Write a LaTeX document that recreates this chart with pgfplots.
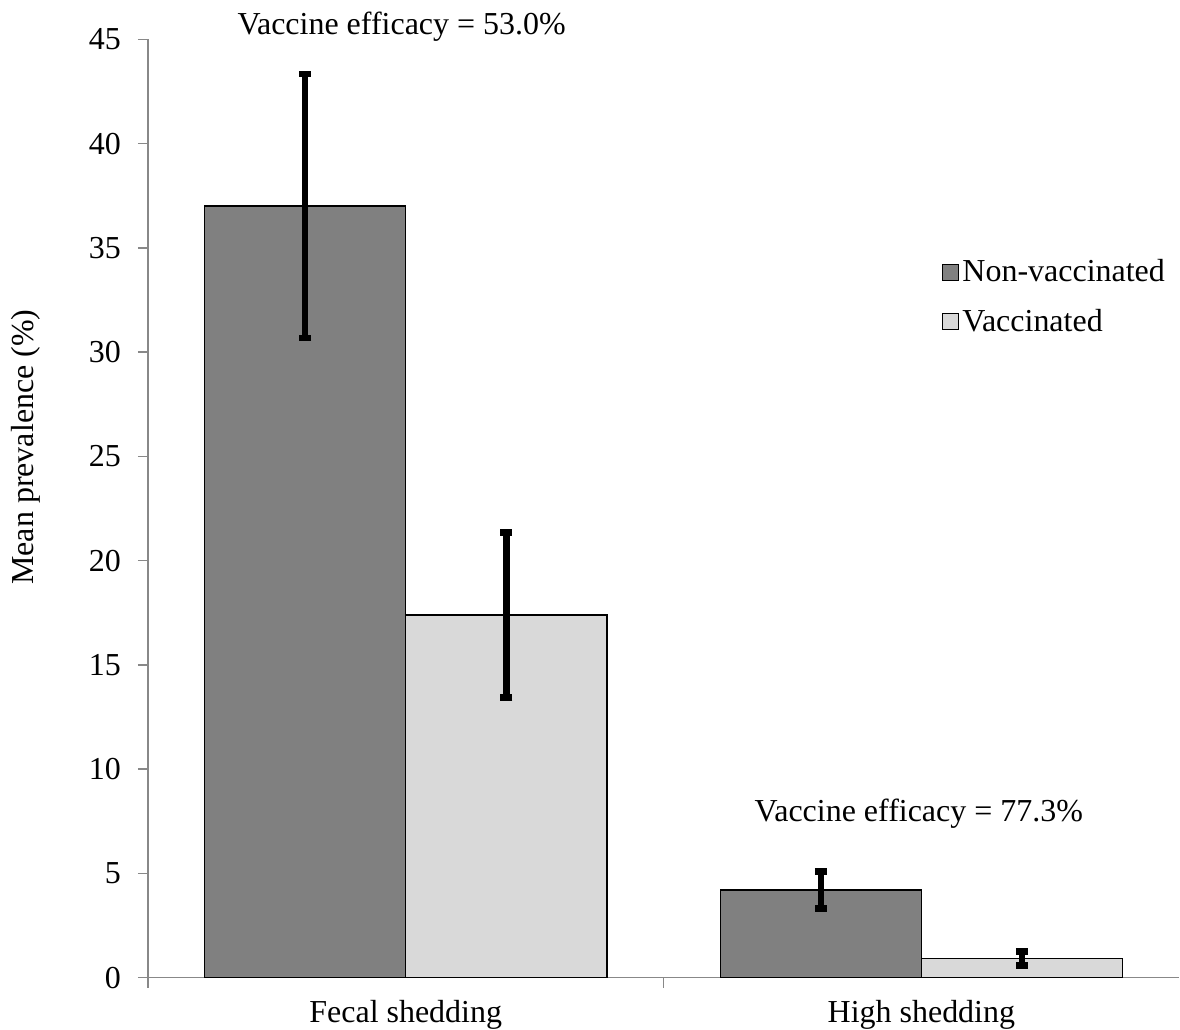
\documentclass[border=0pt]{standalone}
\usepackage{fontspec}
\setmainfont{Liberation Serif}
\usepackage{pgfplots}
\pgfplotsset{compat=1.18}
\definecolor{darkbar}{HTML}{808080}
\definecolor{lightbar}{HTML}{D9D9D9}
\definecolor{axisgray}{HTML}{888888}
\begin{document}
\begin{tikzpicture}
\begin{axis}[
  scale only axis,
  width=516pt, height=469.5pt,
  xmin=-0.5, xmax=1.5, ymin=0, ymax=45,
  axis x line=bottom, axis y line=left,
  axis line style={-, draw=axisgray, line width=0.75pt},
  font=\fontsize{16}{19}\selectfont,
  /pgf/number format/assume math mode=true,
  tick align=outside,
  major tick length=5pt,
  ytick={0,5,...,45},
  ytick style={draw=axisgray, line width=0.75pt},
  yticklabel style={xshift=-5pt},
  xtick={0,1},
  xticklabels={Fecal shedding, High shedding},
  xticklabel style={inner ysep=0pt, yshift=-6.1pt},
  major x tick style={draw=none},
  extra x ticks={-0.5,0.5},
  extra x tick labels={},
  extra x tick style={major x tick style={draw=axisgray, line width=0.75pt}},
  ylabel={Mean prevalence (\%)},
  ylabel style={at={(axis description cs:-0.1187,0.5655)}, anchor=center, rotate=0, inner sep=5.5pt},
  clip=false,
  ybar, bar width=0.39,
  legend style={at={(axis description cs:0.764,0.774)}, anchor=north west, draw=none, fill=none,
    row sep=8pt, font=\fontsize{16}{19}\selectfont, nodes={inner xsep=1.5pt}},
  legend cell align=left,
  legend image code/.code={\draw[#1, draw=black, line width=0.6pt] (0pt,-4pt) rectangle (8pt,4pt);},
  error bars/y dir=both, error bars/y explicit,
  error bars/error bar style={black, line width=3.3pt},
  error bars/error mark options={black, line width=3.3pt, mark size=3pt, rotate=90},
]
\addplot[fill=darkbar, draw=black, line width=0.75pt, bar shift=-0.195]
  coordinates {(0,37.0) +- (0,6.33) (1,4.2) +- (0,0.88)};
\addplot[fill=lightbar, draw=black, line width=0.75pt, bar shift=0.195]
  coordinates {(0,17.4) +- (0,3.95) (1,0.92) +- (0,0.33)};
\legend{Non-vaccinated, Vaccinated}
\node[font=\fontsize{16}{19}\selectfont, anchor=base, inner ysep=6.0pt] at (axis cs:-0.008,45.23) {Vaccine efficacy = 53.0\%};
\node[font=\fontsize{16}{19}\selectfont, anchor=base] at (axis cs:0.995,7.47) {Vaccine efficacy = 77.3\%};
\end{axis}
\end{tikzpicture}
\end{document}
